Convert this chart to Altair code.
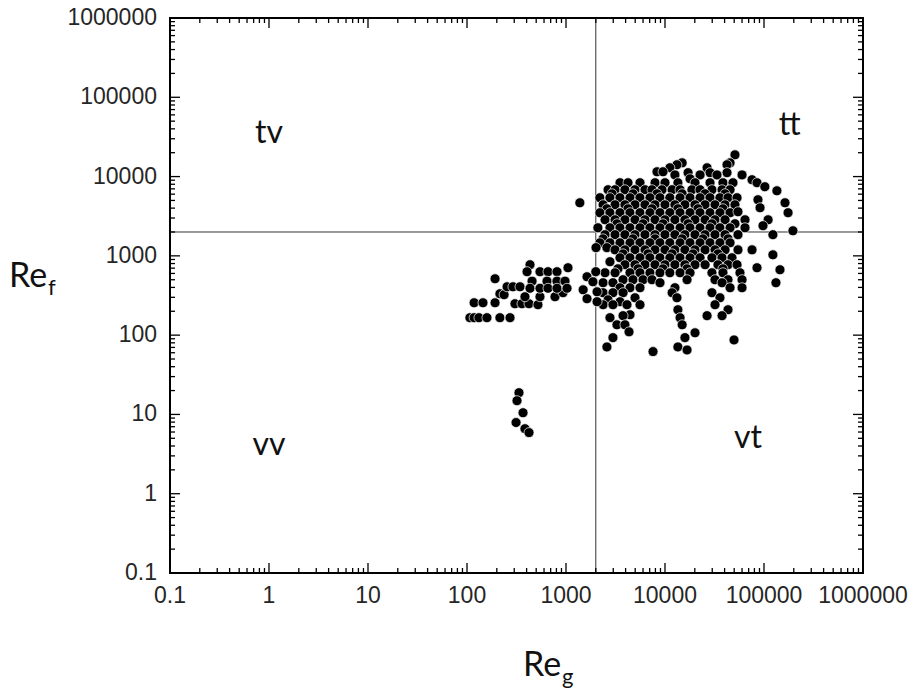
import altair as alt
import pandas as pd

# ---------------- data (Re_g, Re_f) ----------------
top_group = [
    (50900, 18800),
    (14900, 14900), (45400, 14900),
    (13200, 14100), (42300, 14100),
    (11200, 12900), (26600, 12900),
    (8300, 11500), (9550, 11500),
    (17100, 11200), (28500, 11200), (42300, 11200),
    (12600, 10500), (22600, 10500), (33500, 10500), (60000, 10500),
    (17900, 9380),
    (3510, 8360), (4230, 8360), (5590, 8360), (7930, 8360), (10000, 8360),
    (13500, 8360), (20100, 8360), (28500, 8360), (38500, 8360), (48600, 8360),
]

core_group = [
    (2660, 6820), (3130, 6820), (3940, 6820), (4980, 6820), (6280, 6820), (7390, 6820), (9330, 6820),
    (11800, 6820), (14200, 6820), (18700, 6820), (22600, 6820), (29800, 6820), (37700, 6820), (45400, 6820),
    (2920, 6070), (4750, 6070), (8300, 6070), (14900, 6070), (25400, 6070), (40400, 6070),
    (2200, 5410), (2780, 5410), (3510, 5410), (4430, 5410), (5590, 5410), (7050, 5410), (8900, 5410),
    (11200, 5410), (14200, 5410), (17900, 5410), (22600, 5410), (28500, 5410), (35900, 5410), (43300, 5410), (53400, 5410),
    (2370, 4410), (3130, 4410), (3940, 4410), (4980, 4410), (6280, 4410), (7930, 4410), (10000, 4410),
    (12600, 4410), (15900, 4410), (20100, 4410), (25400, 4410), (32000, 4410), (40400, 4410), (50900, 4410),
    (2590, 3930), (4230, 3930), (7390, 3930), (13500, 3930), (21500, 3930), (38500, 3930),
    (2200, 3500), (2780, 3500), (3510, 3500), (4430, 3500), (5590, 3500), (7050, 3500), (8900, 3500),
    (11200, 3500), (14200, 3500), (17900, 3500), (22600, 3500), (28500, 3500), (35900, 3500), (45400, 3500),
    (2480, 2850), (3130, 2850), (3940, 2850), (4980, 2850), (6280, 2850), (7930, 2850), (10000, 2850),
    (12600, 2850), (15900, 2850), (20100, 2850), (25400, 2850), (32000, 2850), (40400, 2850),
    (3270, 2540), (6000, 2540), (9550, 2540), (17100, 2540), (29800, 2540), (50900, 2540),
    (2100, 2260), (2780, 2260), (3510, 2260), (4430, 2260), (5590, 2260), (7050, 2260), (8900, 2260),
    (11200, 2260), (14200, 2260), (17900, 2260), (22600, 2260), (28500, 2260), (35900, 2260), (45400, 2260),
    (2480, 1850), (3130, 1850), (3940, 1850), (4980, 1850), (6280, 1850), (7930, 1850), (10000, 1850),
    (12600, 1850), (15900, 1850), (20100, 1850), (25400, 1850), (32000, 1850), (40400, 1850), (54600, 1850),
    (2370, 1640), (4750, 1640), (7930, 1640), (14900, 1640), (24200, 1640), (43300, 1640),
    (2200, 1460), (2780, 1460), (3510, 1460), (4430, 1460), (5590, 1460), (7050, 1460), (8900, 1460),
    (11200, 1460), (14200, 1460), (17900, 1460), (22600, 1460), (28500, 1460), (35900, 1460), (45400, 1460),
    (2010, 1270), (2590, 1270),
    (3130, 1190), (3940, 1190), (4980, 1190), (6280, 1190), (7930, 1190), (10000, 1190), (12600, 1190),
    (15900, 1190), (20100, 1190), (25400, 1190), (32000, 1190), (40400, 1190), (54600, 1190),
    (3770, 1060), (6730, 1060), (11800, 1060), (19200, 1060), (34300, 1060),
    (3510, 946), (4430, 946), (5590, 946), (7050, 946), (8900, 946), (11200, 946), (14200, 946),
    (17900, 946), (22600, 946), (29800, 946), (37700, 946), (47500, 946),
    (2780, 843),
    (3940, 773), (4980, 773), (6280, 773), (7930, 773), (10000, 773), (12600, 773), (15900, 773),
    (20100, 773), (25400, 773), (34300, 773), (43300, 773), (53400, 773),
    (3350, 687), (5340, 687), (9550, 687), (16700, 687), (38500, 687),
    (2480, 612), (3130, 612), (4430, 612), (5590, 612), (7050, 612), (8900, 612), (11200, 612),
    (14200, 612), (17900, 612), (29800, 612), (38500, 612), (57200, 612),
]

lower_group = [
    (3770, 500), (4750, 500), (6000, 500), (7390, 500), (16700, 500), (32000, 500), (43300, 500), (60000, 500),
    (2370, 458), (2980, 458), (8900, 458), (37700, 458),
    (3510, 396), (4430, 396), (5590, 396), (12600, 396), (45400, 396), (60000, 396),
    (2370, 343), (2980, 343), (3770, 343), (11800, 343), (29800, 343),
    (4980, 296), (13200, 296), (35900, 296),
    (2660, 279), (3510, 264), (5590, 242),
    (2370, 242), (2980, 242), (4130, 242), (32000, 242),
    (13500, 209), (43300, 209),
    (4430, 181), (2780, 166),
    (3770, 176), (26600, 176), (37700, 176),
    (14200, 166),
    (3270, 135), (3940, 135), (14900, 135),
    (4330, 110), (20100, 107),
    (2980, 93), (15900, 93), (49800, 87),
    (2590, 71), (13500, 71), (16700, 65), (7570, 62),
]

right_scatter = [
    (75700, 9120), (85000, 8360), (102000, 7440), (135000, 6620), (86900, 5100),
    (163000, 4670), (91200, 4040), (54600, 3600), (175000, 3500), (64300, 2850),
    (110000, 2850), (97700, 2400), (64300, 2260), (196000, 2070), (123000, 1850),
    (75700, 1190), (123000, 1030), (85000, 708), (145000, 668), (132000, 458),
]

left_wing = [
    (107, 166), (118, 166), (132, 166), (159, 166), (215, 166), (272, 166),
    (118, 256), (145, 256), (192, 256), (305, 249), (359, 249), (423, 249), (521, 242),
    (215, 333), (237, 324), (192, 514),
    (254, 407), (291, 407), (343, 407),
    (385, 305), (546, 305), (774, 305), (933, 343),
    (433, 773), (404, 631), (546, 631), (658, 631), (811, 631), (1047, 708),
    (454, 480), (643, 480), (811, 480), (977, 480),
    (433, 390), (546, 390), (658, 390), (811, 390), (1024, 390),
    (1630, 545), (1490, 373), (1630, 288), (1870, 471), (2000, 631), (2060, 352), (2060, 264),
    (1380, 4670),
]

low_group = [
    (335, 18.8), (320, 14.9), (368, 10.5), (313, 7.9), (385, 6.6), (423, 5.9),
]

points = top_group + core_group + lower_group + right_scatter + left_wing + low_group
df = pd.DataFrame(points, columns=["Re_g", "Re_f"])

# regime boundaries
threshold_g = [2000]
threshold_f = [2000]

# regime labels
regime_text = ["tv", "vv", "tt", "vt"]
regime_g = [1, 1, 182000, 69000]
regime_f = [35500, 4.15, 45000, 5.1]

# axis ticks and tick labels
decades = [0.1, 1, 10, 100, 1000, 10000, 100000, 1000000]
decade_labels = ["0.1", "1", "10", "100", "1000", "10000", "100000", "1000000"]
minor_ticks = [m * d for d in decades[:-1] for m in range(2, 10)]

# ---------------- chart ----------------
W, H = 693, 555
xs = alt.Scale(type="log", domain=[0.1, 1000000], nice=False)
ys = alt.Scale(type="log", domain=[0.1, 1000000], nice=False)

label_font = "Liberation Sans"
big_font = "Lato"

pts = alt.Chart(df).mark_circle(
    size=100, fill="black", stroke="white", strokeWidth=0.7, opacity=1
).encode(
    x=alt.X("Re_g:Q", scale=xs, axis=None),
    y=alt.Y("Re_f:Q", scale=ys, axis=None),
)

vline = alt.Chart(pd.DataFrame({"v": threshold_g})).mark_rule(
    color="#333333", strokeWidth=1
).encode(x=alt.X("v:Q", scale=xs, axis=None))

hline = alt.Chart(pd.DataFrame({"v": threshold_f})).mark_rule(
    color="#333333", strokeWidth=1
).encode(y=alt.Y("v:Q", scale=ys, axis=None))

regimes = alt.Chart(
    pd.DataFrame({"t": regime_text, "g": regime_g, "f": regime_f})
).mark_text(font=big_font, fontSize=32, color="#111111", align="center", baseline="middle").encode(
    x=alt.X("g:Q", scale=xs, axis=None),
    y=alt.Y("f:Q", scale=ys, axis=None),
    text="t:N",
)

lab_df = pd.DataFrame({"v": decades, "t": decade_labels})
x_labels = alt.Chart(lab_df).mark_text(
    font=label_font, fontSize=23, color="#262626", align="center", baseline="top"
).encode(x=alt.X("v:Q", scale=xs, axis=None), y=alt.value(H + 12), text="t:N")
y_labels = alt.Chart(lab_df).mark_text(
    font=label_font, fontSize=23, color="#262626", align="right", baseline="middle"
).encode(y=alt.Y("v:Q", scale=ys, axis=None), x=alt.value(-13), text="t:N")


def tick_layer(vals, side, length):
    d = pd.DataFrame({"v": vals})
    r = alt.Chart(d).mark_rule(color="black", strokeWidth=1.3)
    if side == "bottom":
        return r.encode(x=alt.X("v:Q", scale=xs, axis=None), y=alt.value(H), y2=alt.value(H - length))
    if side == "top":
        return r.encode(x=alt.X("v:Q", scale=xs, axis=None), y=alt.value(0), y2=alt.value(length))
    if side == "left":
        return r.encode(y=alt.Y("v:Q", scale=ys, axis=None), x=alt.value(0), x2=alt.value(length))
    return r.encode(y=alt.Y("v:Q", scale=ys, axis=None), x=alt.value(W), x2=alt.value(W - length))


ticks = []
for side in ["bottom", "top", "left", "right"]:
    ticks.append(tick_layer(decades, side, 10))
    ticks.append(tick_layer(minor_ticks, side, 5))


def label(txt, x, y, size):
    return alt.Chart(pd.DataFrame({"t": [txt]})).mark_text(
        font=big_font, fontSize=size, color="#111111", align="left", baseline="alphabetic"
    ).encode(x=alt.value(x), y=alt.value(y), text="t:N")


titles = [
    label("Re", 353, 658, 34),
    label("g", 392, 666, 22),
    label("Re", -161, 269, 34),
    label("f", -122, 277, 22),
]

chart = alt.layer(vline, hline, pts, regimes, x_labels, y_labels, *ticks, *titles).properties(
    width=W,
    height=H,
    autosize=alt.AutoSizeParams(type="none"),
    padding={"left": 170, "top": 18, "right": 47, "bottom": 117},
    background="white",
).configure_view(stroke="black", strokeWidth=2)

chart.save("out.html", embed_options={"renderer": "svg", "actions": False})
